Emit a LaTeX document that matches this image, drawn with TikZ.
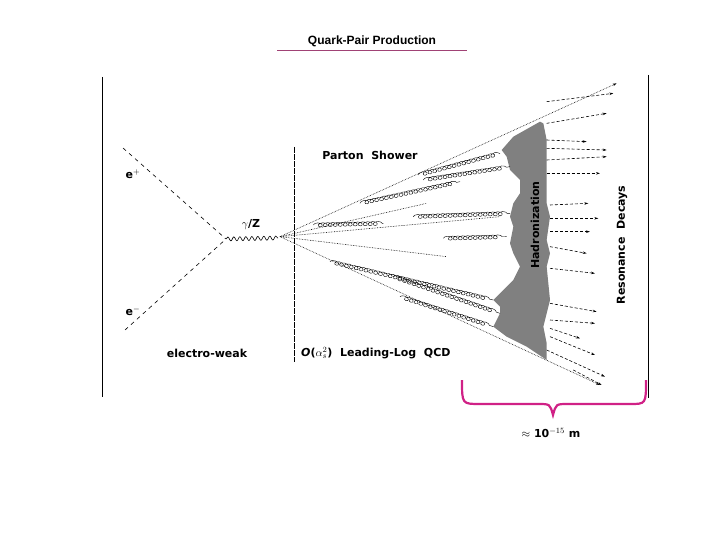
\documentclass[tikz,border=0pt]{standalone}
\usepackage{fontspec}
\setmainfont{Liberation Sans}
\setsansfont{DejaVu Sans}
\usetikzlibrary{decorations.pathmorphing,decorations.pathreplacing,arrows.meta}
\begin{document}
\begin{tikzpicture}[x=1pt,y=-1pt,
  lab/.style={font=\sffamily\bfseries\fontsize{11}{12}\selectfont},
  quark/.style={densely dotted,semithick},
  lep/.style={dash pattern=on 4pt off 4pt,semithick},
  had/.style={dash pattern=on 3pt off 2pt,semithick,-{Stealth[length=4pt,width=2.5pt]}},
  glu/.style={thin,decorate,decoration={coil,aspect=1.6,segment length=5pt,amplitude=2pt}},
  wave/.style={semithick,decorate,decoration={snake,segment length=6pt,amplitude=2pt}}]
\useasboundingbox (0,0) rectangle (720,540);
\node[font=\bfseries\fontsize{12}{13}\selectfont,text=black] (title) at (372,41) {Quark-Pair Production};
\draw[magenta!60!black,thin] (277,50) -- (467,50);
\draw[semithick] (102,77) -- (102,397);
\draw[semithick] (648,75) -- (648,398);
\draw[dash pattern=on 6pt off 1pt] (294,147) -- (294,362);
\coordinate (v) at (226,239);
\draw[lep] (123,148) -- (v);
\draw[lep] (125,330) -- (v);
\draw[wave] (v) -- (278,238);
\node[lab] at (133,174) {e$^{+}$};
\node[lab] at (133,311) {e$^{-}$};
\node[lab] at (251,225) {$\gamma$/Z};
\node[lab] at (207,353) {electro-weak};
\node[lab,anchor=west,inner sep=1pt] at (300,353) {\textit{O}($\alpha_s^{2}$)\ \ Leading-Log\ \ QCD};
\node[lab] at (370,155) {Parton\ \ Shower};
\begin{scope}[shift={(280,60)},scale=1/3]
\fill[gray] (780,185) -- (700,230) -- (665,270) -- (680,290) -- (690,330) -- (720,360) -- (720,400) -- (700,430) -- (690,470) -- (700,500) -- (690,550) -- (700,580) -- (720,620) -- (700,660) -- (660,700) -- (640,720) -- (660,740) -- (660,760) -- (640,800) -- (680,830) -- (740,860) -- (800,900) -- (800,850) -- (790,800) -- (800,760) -- (810,720) -- (800,620) -- (810,580) -- (800,540) -- (810,470) -- (800,430) -- (800,400) -- (800,350) -- (800,310) -- (800,240) -- (790,190) -- cycle;
\draw[quark,-{Stealth[length=4pt,width=2.5pt]}] (0,530) -- (1010,70);
\draw[quark,-{Stealth[length=4pt,width=2.5pt]}] (0,530) -- (960,975);
\draw[quark] (0,530) -- (440,430);
\draw[quark] (0,530) -- (660,470);
\draw[quark] (0,530) -- (500,590);
\draw[glu] (415,345) -- (660,280);
\draw[glu] (430,360) -- (690,320);
\draw[glu] (240,430) -- (540,365);
\draw[glu] (100,495) -- (310,490);
\draw[glu] (400,470) -- (690,460);
\draw[glu] (490,535) -- (680,530);
\draw[glu] (150,605) -- (640,720);
\draw[glu] (340,650) -- (660,760);
\draw[glu] (360,710) -- (640,800);
\draw[had] (800,125) -- (1000,100);
\draw[had] (800,190) -- (980,160);
\draw[had] (800,240) -- (920,245);
\draw[had] (800,265) -- (980,270);
\draw[had] (800,300) -- (980,290);
\draw[had] (800,340) -- (960,340);
\draw[had] (810,435) -- (925,430);
\draw[had] (810,475) -- (955,475);
\draw[had] (810,515) -- (930,515);
\draw[had] (810,560) -- (920,580);
\draw[had] (810,625) -- (945,640);
\draw[had] (810,730) -- (950,755);
\draw[had] (810,780) -- (945,790);
\draw[had] (810,805) -- (900,835);
\draw[had] (810,830) -- (945,885);
\draw[had] (800,870) -- (975,950);
\draw[had] (880,930) -- (965,975);
\end{scope}
\node[lab,rotate=90] at (535,225) {Hadronization};
\node[lab,rotate=90] at (622,245) {Resonance\ \ Decays};
\draw[magenta!70!violet,line width=2.2pt] (462,380) .. controls (462,404) .. (480,404) -- (538,404) .. controls (550,404) .. (553,415) .. controls (556,404) .. (568,404) -- (630,404) .. controls (646,404) .. (646,380);
\node[lab] at (551,433) {$\approx$ 10$^{-15}$ m};
\end{tikzpicture}
\end{document}
